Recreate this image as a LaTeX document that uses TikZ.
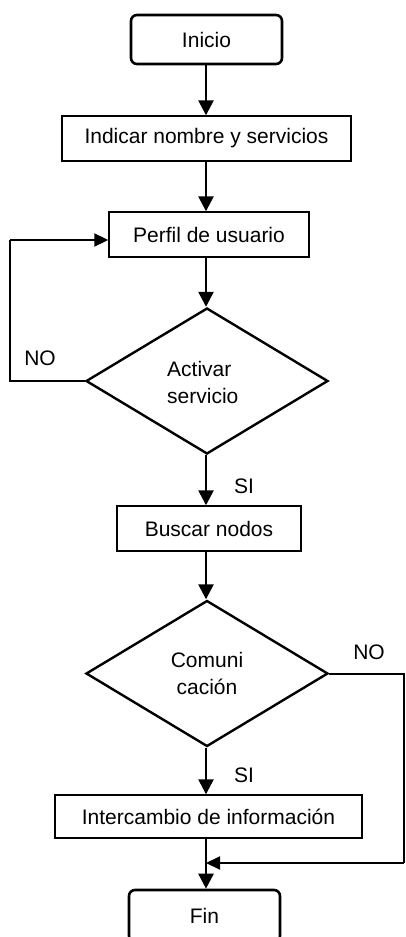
\documentclass[tikz,border=0pt]{standalone}
\usepackage{fontspec}
\setmainfont{Liberation Sans}
\usetikzlibrary{shapes.geometric,arrows.meta}
\begin{document}
\begin{tikzpicture}[x=1pt,y=-1pt,
  every node/.style={font=\fontsize{21}{27}\selectfont},
  term/.style={draw, line width=2.6pt, rounded corners=6pt, minimum width=151pt, minimum height=49pt, inner sep=0pt},
  proc/.style={draw, line width=1.4pt, inner sep=0pt},
  decis/.style={draw, diamond, line width=2.4pt, minimum width=242pt, minimum height=146pt, inner sep=0pt, align=center},
  flow/.style={line width=2.5pt, -{Triangle[length=15pt,width=15pt]}},
  loopline/.style={line width=2pt},
  sideflow/.style={line width=2pt, -{Triangle[length=14pt,width=13pt]}},
  lbl/.style={inner sep=0pt}]
\useasboundingbox (0,0) rectangle (405,937);
\coordinate (spine) at (206,0);
\node[term] (inicio) at (206.5,39.5) {Inicio};
\node[proc, minimum width=289pt, minimum height=45pt] (indicar) at (206.5,138.5) {Indicar nombre y servicios};
\node[proc, minimum width=200pt, minimum height=45pt] (perfil) at (209,234.5) {Perfil de usuario};
\node[decis] (d1) at (207,381) {};
\node[lbl, align=left, anchor=west] (d1t) at (167,382) {Activar\\servicio};
\node[proc, minimum width=184pt, minimum height=45pt] (buscar) at (209,528.5) {Buscar nodos};
\node[decis] (d2) at (207,673.5) {Comuni\\cación};
\node[proc, minimum width=307pt, minimum height=43pt] (inter) at (208.5,816.5) {Intercambio de información};
\node[term, minimum height=52pt] (fin) at (204.5,916) {Fin};
\node[lbl] (no1) at (40,358) {NO};
\node[lbl] (si1) at (244,486) {SI};
\node[lbl] (no2) at (369,652) {NO};
\node[lbl] (si2) at (244,775) {SI};
\coordinate (l1) at (10,381);
\coordinate (l2) at (10,240);
\coordinate (r1) at (404,673.5);
\coordinate (r2) at (404,863);
\coordinate (m) at (206,863);
\draw[flow] (inicio.south -| spine) -- (indicar.north -| spine);
\draw[flow] (indicar.south -| spine) -- (perfil.north -| spine);
\draw[flow] (perfil.south -| spine) -- (d1.north -| spine);
\draw[flow] (d1.south -| spine) -- (buscar.north -| spine);
\draw[flow] (buscar.south -| spine) -- (d2.north -| spine);
\draw[flow] (d2.south -| spine) -- (inter.north -| spine);
\draw[flow] (inter.south -| spine) -- (fin.north -| spine);
\draw[loopline] (d1.west) -- (l1) -- (l2);
\draw[sideflow] (l2) -- (perfil.west |- l2);
\draw[loopline] (d2.east) -- (r1) -- (r2);
\draw[sideflow] (r2) -- (m);
\end{tikzpicture}
\end{document}
